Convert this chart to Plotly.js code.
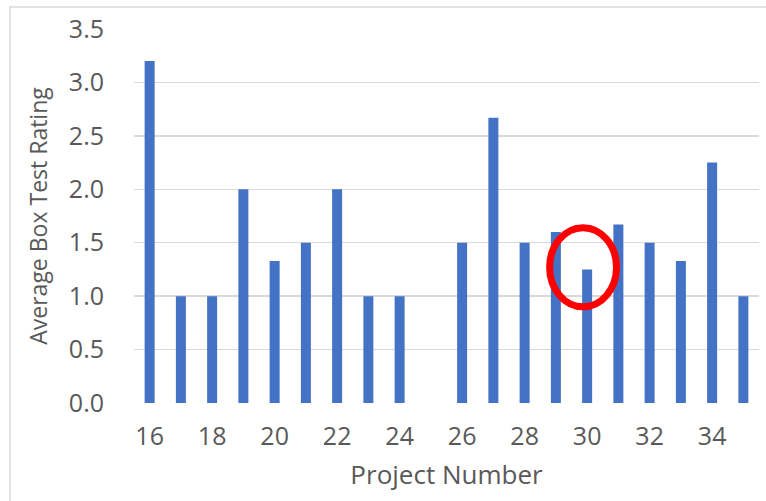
<!DOCTYPE html>
<html>
<head>
<meta charset="utf-8">
<script src="https://cdn.plot.ly/plotly-3.0.1.min.js"></script>
<style>
  html, body { margin: 0; padding: 0; background: #fff; }
  #chart { width: 766px; height: 501px; }
</style>
</head>
<body>
<div id="chart"></div>
<script>
// project numbers and their average box test rating (25 has no bar)
let projectNumbers = [16, 17, 18, 19, 20, 21, 22, 23, 24, 26, 27, 28, 29, 30, 31, 32, 33, 34, 35];
let avgRatings = [3.2, 1.0, 1.0, 2.0, 1.33, 1.5, 2.0, 1.0, 1.0, 1.5, 2.67, 1.5, 1.6, 1.25, 1.67, 1.5, 1.33, 2.25, 1.0];
let xTicks = [16, 18, 20, 22, 24, 26, 28, 30, 32, 34];
let yTicks = [0, 0.5, 1, 1.5, 2, 2.5, 3, 3.5];
let yTickText = yTicks.map(v => v.toFixed(1));

let trace = {
  x: projectNumbers,
  y: avgRatings,
  type: "bar",
  width: 0.32,
  marker: { color: "#4472C4" },
  hoverinfo: "x+y"
};

let grey = "#595959";

let layout = {
  width: 766,
  height: 501,
  margin: { l: 134, r: 7, t: 29, b: 98 },
  paper_bgcolor: "#fff",
  plot_bgcolor: "#fff",
  font: { family: "Open Sans, sans-serif", color: grey },
  showlegend: false,
  xaxis: {
    range: [15.5, 35.5],
    tickvals: xTicks,
    ticktext: xTicks.map(String),
    showgrid: false,
    zeroline: false,
    showline: false,
    ticks: "",
    tickfont: { size: 25, color: grey },
    ticklabelstandoff: 16,
    title: { text: "Project Number", font: { size: 26, color: grey }, standoff: 14 }
  },
  yaxis: {
    range: [0, 3.5],
    tickvals: yTicks,
    ticktext: yTickText,
    showgrid: true,
    gridcolor: "#D9D9D9",
    gridwidth: 1.5,
    zeroline: false,
    showline: false,
    ticks: "",
    tickfont: { size: 25, color: grey },
    ticklabelstandoff: 29,
    title: { text: "Average Box Test Rating", font: { size: 23, color: grey }, standoff: 14 }
  },
  shapes: [
    // outer chart frame
    {
      type: "rect", xref: "paper", yref: "paper",
      x0: -0.1984, x1: 1.1, y0: -0.5, y1: 1.0588,
      line: { color: "#D9D9D9", width: 1.5 }, layer: "below"
    },
    // red circle highlighting project 30
    {
      type: "circle", xref: "x", yref: "y",
      x0: 28.8, x1: 30.94, y0: 0.9, y1: 1.64,
      line: { color: "#FF0000", width: 7 }
    }
  ]
};

Plotly.newPlot("chart", [trace], layout, { displayModeBar: false, staticPlot: true });
</script>
</body>
</html>
